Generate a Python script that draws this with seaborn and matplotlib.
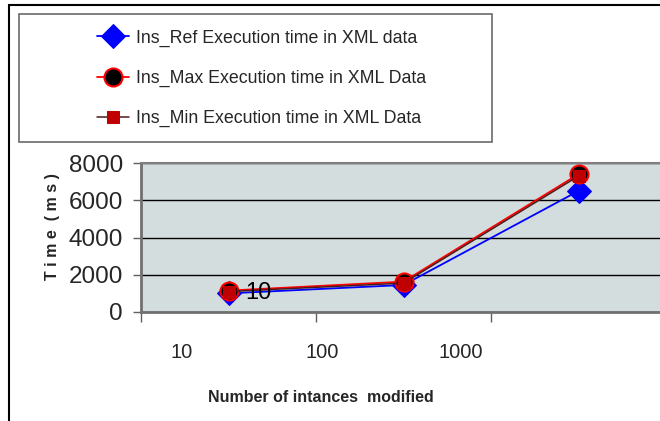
import matplotlib
matplotlib.use("Agg")
import matplotlib.pyplot as plt
from matplotlib.patches import Rectangle
import seaborn as sns
import pandas as pd

# ---- data ----
categories = ["10", "100", "1000"]
ref_values = [1000, 1450, 6500]
max_values = [1150, 1630, 7400]
min_values = [1100, 1550, 7300]
series_names = [
    "Ins_Ref Execution time in XML data",
    "Ins_Max Execution time in XML Data",
    "Ins_Min Execution time in XML Data",
]
xtick_labels = ["10", "100", "1000"]
ytick_values = [0, 2000, 4000, 6000, 8000]
data_label = "10"

sns.set_theme(style="white")
plt.rcParams["font.family"] = ["Liberation Sans", "DejaVu Sans"]

fig = plt.figure(figsize=(6.6, 4.21), dpi=100)
fig.patch.set_facecolor("white")

W, H = 660, 421
ax = fig.add_axes([141 / W, 1 - 312 / H, 525 / W, 149 / H])
ax.set_facecolor("#D3DDDD")

df = pd.DataFrame({"cat": categories, "ref": ref_values, "max": max_values, "min": min_values})

sns.lineplot(data=df, x="cat", y="ref", ax=ax, color="#0000FF", linewidth=1.3,
             marker="D", markersize=12, markerfacecolor="#0000FF",
             markeredgecolor="#0000FF", label=series_names[0], sort=False)
sns.lineplot(data=df, x="cat", y="max", ax=ax, color="#FF0000", linewidth=1.3,
             marker="o", markersize=13, markerfacecolor="black",
             markeredgecolor="#FF0000", markeredgewidth=1.5, label=series_names[1], sort=False)
sns.lineplot(data=df, x="cat", y="min", ax=ax, color="#4d1a1a", linewidth=1.1,
             marker="s", markersize=8, markerfacecolor="#C00000",
             markeredgecolor="#C00000", label=series_names[2], sort=False)

# data label next to first point
ax.annotate(data_label, xy=(0, ref_values[0]), xytext=(12, 0), textcoords="offset points",
            ha="left", va="center", fontsize=17, color="black")

ax.set_xlim(-0.5, 2.5)
ax.set_ylim(0, 8000)
ax.set_yticks(ytick_values)
ax.set_yticklabels([str(v) for v in ytick_values], fontsize=17.5)
ax.tick_params(axis="y", which="major", direction="out", length=6, width=1,
               color="#606060", pad=7, left=True)

# category tick marks at boundaries, labels shifted as in the reference
ax.set_xticks([-0.5, 0.5, 1.5, 2.5], minor=True)
ax.set_xticks([-0.269, 0.537, 1.326])
ax.set_xticklabels(xtick_labels, fontsize=14.5)
ax.tick_params(axis="x", which="major", length=0, pad=22)
ax.tick_params(axis="x", which="minor", direction="out", length=7, width=1,
               color="#606060", bottom=True)

ax.yaxis.grid(True, color="black", linewidth=1)
ax.xaxis.grid(False)
for side in ["left", "bottom"]:
    ax.spines[side].set_color("#707070")
    ax.spines[side].set_linewidth(2)
ax.spines["top"].set_color("#808080")
ax.spines["top"].set_linewidth(1.5)
ax.spines["right"].set_visible(False)
ax.set_xlabel("")
ax.set_ylabel("")

handles, labels = ax.get_legend_handles_labels()
ax.get_legend().remove()

# labels
fig.text(321 / W, 1 - 397 / H, "Number of intances  modified", ha="center", va="center",
         fontsize=11.5, fontweight="bold")
fig.text(53 / W, 1 - 227 / H, "T i m e  ( m s )", ha="center", va="center",
         rotation=90, fontsize=11.5, fontweight="bold")

# legend box
fig.patches.append(Rectangle((19 / W, 1 - 142 / H), 473 / W, 128 / H,
                             transform=fig.transFigure, fill=False,
                             edgecolor="#6a6a6a", linewidth=1.2))
fig.legend(handles, labels, loc="center", bbox_to_anchor=(262 / W, 1 - 78.5 / H),
           frameon=False, fontsize=12.8, handlelength=1.8, handletextpad=0.4,
           labelspacing=1.3)

# outer border
fig.patches.append(Rectangle((9 / W, -0.1), 1.2, 1 - 5 / H + 0.1,
                             transform=fig.transFigure, fill=False,
                             edgecolor="black", linewidth=1.5, clip_on=False))

fig.savefig("out.png", dpi=100)
